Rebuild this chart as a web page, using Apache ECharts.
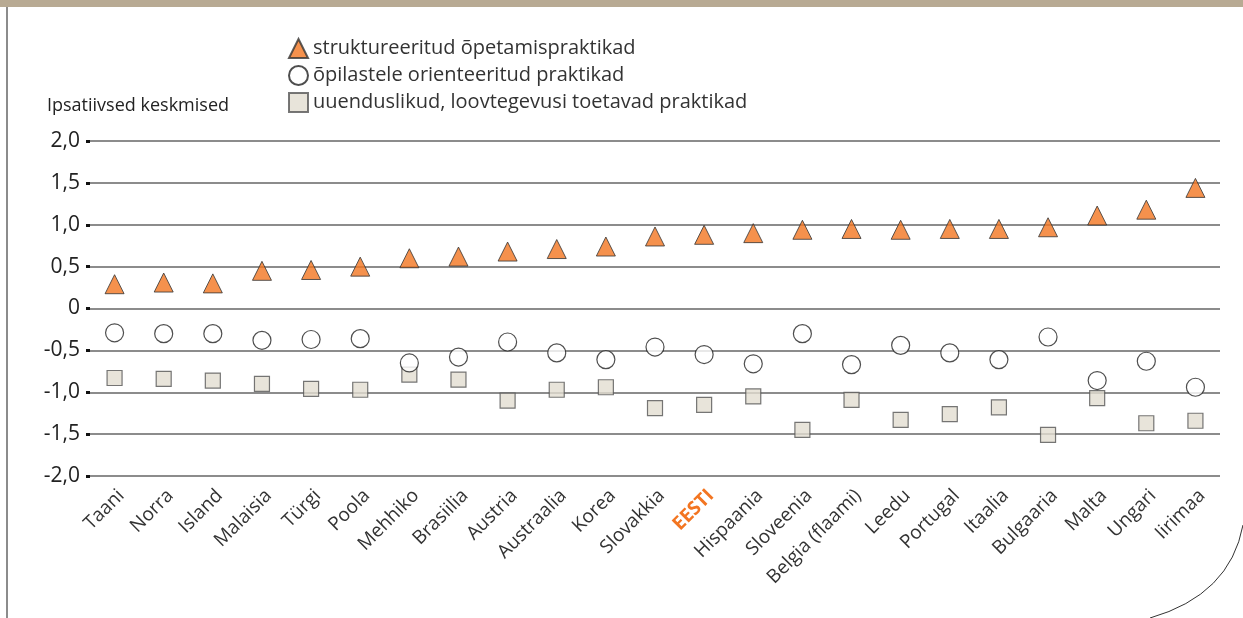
<!DOCTYPE html>
<html>
<head>
<meta charset="utf-8">
<title>Ipsatiivsed keskmised</title>
<script src="https://cdn.jsdelivr.net/npm/echarts@6/dist/echarts.min.js"></script>
<style>
  html, body { margin: 0; padding: 0; background: #fff; }
  #chart { width: 1243px; height: 618px; }
</style>
</head>
<body>
<div id="chart"></div>
<script>
// riigid (x-telg)
const countries = ['Taani', 'Norra', 'Island', 'Malaisia', 'Türgi', 'Poola', 'Mehhiko', 'Brasiilia', 'Austria', 'Austraalia', 'Korea', 'Slovakkia', 'EESTI', 'Hispaania', 'Sloveenia', 'Belgia (flaami)', 'Leedu', 'Portugal', 'Itaalia', 'Bulgaaria', 'Malta', 'Ungari', 'Iirimaa']
const seriesNames = ['struktureeritud õpetamispraktikad', 'õpilastele orienteeritud praktikad', 'uuenduslikud, loovtegevusi toetavad praktikad']
// struktureeritud õpetamispraktikad
const structured = [0.29, 0.31, 0.30, 0.45, 0.46, 0.50, 0.60, 0.62, 0.68, 0.71, 0.74, 0.86, 0.88, 0.90, 0.94, 0.95, 0.94, 0.95, 0.95, 0.97, 1.11, 1.18, 1.44]
// õpilastele orienteeritud praktikad
const studentOriented = [-0.29, -0.30, -0.30, -0.38, -0.37, -0.36, -0.65, -0.58, -0.40, -0.53, -0.61, -0.46, -0.55, -0.66, -0.30, -0.67, -0.44, -0.53, -0.61, -0.34, -0.86, -0.63, -0.94]
// uuenduslikud, loovtegevusi toetavad praktikad
const innovative = [-0.83, -0.84, -0.86, -0.90, -0.96, -0.97, -0.79, -0.85, -1.10, -0.97, -0.94, -1.19, -1.15, -1.05, -1.45, -1.09, -1.33, -1.26, -1.18, -1.51, -1.07, -1.37, -1.34]
const yTicks = [-2, -1.5, -1, -0.5, 0, 0.5, 1, 1.5, 2]

const FONT = 'Open Sans, Noto Sans, sans-serif'
const ORANGE = '#f37521'

const myChart = echarts.init(document.getElementById('chart'))
const option = {
  backgroundColor: '#fff',
  animation: false,
  textStyle: { fontFamily: FONT },
  title: {
    text: 'Ipsatiivsed keskmised',
    left: 42,
    top: 92,
    textStyle: { fontFamily: FONT, fontSize: 18, fontWeight: 'normal', color: '#222' }
  },
  legend: {
    orient: 'vertical',
    left: 283,
    top: 33,
    itemGap: 6,
    itemWidth: 19,
    itemHeight: 19,
    data: seriesNames,
    textStyle: { fontFamily: FONT, fontSize: 20, color: '#333' }
  },
  grid: { left: 90, right: 23, top: 141, bottom: 142 },
  xAxis: {
    type: 'category',
    data: countries,
    boundaryGap: true,
    axisLine: { show: false },
    axisTick: { show: false },
    axisLabel: {
      rotate: 45,
      margin: 10,
      interval: 0,
      verticalAlign: 'top',
      fontFamily: FONT,
      fontSize: 19,
      color: '#333',
      formatter: function(v) {
        return v === 'EESTI' ? '{hl|' + v + '}' : v
      },
      rich: {
        hl: { color: ORANGE, fontWeight: 'bold', fontSize: 19, fontFamily: FONT, verticalAlign: 'top' }
      }
    }
  },
  yAxis: {
    type: 'value',
    min: yTicks[0],
    max: yTicks[yTicks.length - 1],
    interval: 0.5,
    axisLine: { show: false },
    axisTick: { show: true, length: 4, lineStyle: { color: '#111', width: 3 } },
    axisLabel: {
      margin: 10,
      fontFamily: FONT,
      fontSize: 21,
      color: '#222',
      formatter: function(v) {
        return v === 0 ? '0' : v.toFixed(1).replace('.', ',')
      }
    },
    splitLine: { lineStyle: { color: '#666', width: 1.5 } }
  },
  series: [
    {
      name: seriesNames[0],
      type: 'scatter',
      symbol: 'triangle',
      symbolSize: 19,
      z: 4,
      itemStyle: { color: ORANGE, borderColor: '#333', borderWidth: 1 },
      data: structured
    },
    {
      name: seriesNames[1],
      type: 'scatter',
      symbol: 'circle',
      symbolSize: 18,
      z: 3,
      itemStyle: { color: '#fff', borderColor: '#222', borderWidth: 1.2 },
      data: studentOriented
    },
    {
      name: seriesNames[2],
      type: 'scatter',
      symbol: 'rect',
      symbolSize: 15,
      z: 2,
      itemStyle: { color: '#e2ddd1', borderColor: '#555', borderWidth: 1.2 },
      data: innovative
    }
  ],
  graphic: [
    // ülemine riba
    { type: 'rect', left: 0, top: 0, shape: { width: 1243, height: 7 }, style: { fill: '#b8aa93' }, silent: true },
    // vasak joon
    { type: 'line', shape: { x1: 7, y1: 7, x2: 7, y2: 618 }, style: { stroke: '#666', lineWidth: 1.5 }, silent: true },
    // kaar paremas alanurgas
    { type: 'bezierCurve', shape: { x1: 1150, y1: 618, cpx1: 1230, cpy1: 595, x2: 1243, y2: 525 }, style: { stroke: '#333', lineWidth: 1, fill: null }, silent: true }
  ]
}
myChart.setOption(option)
</script>
</body>
</html>
